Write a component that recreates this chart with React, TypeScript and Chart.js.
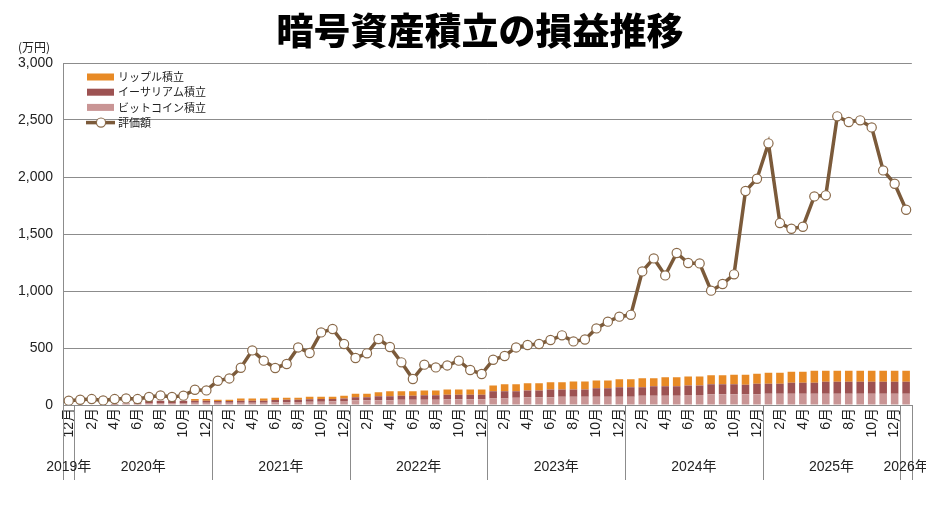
import React, { useEffect, useRef } from 'react';
import { Chart, registerables } from 'chart.js';

Chart.register(...registerables);

const TITLE = '暗号資産積立の損益推移';
const UNIT = '(万円)';

// month of each category: 2019-12 ... 2026-01
const months = [
  12,
  1, 2, 3, 4, 5, 6, 7, 8, 9, 10, 11, 12,
  1, 2, 3, 4, 5, 6, 7, 8, 9, 10, 11, 12,
  1, 2, 3, 4, 5, 6, 7, 8, 9, 10, 11, 12,
  1, 2, 3, 4, 5, 6, 7, 8, 9, 10, 11, 12,
  1, 2, 3, 4, 5, 6, 7, 8, 9, 10, 11, 12,
  1, 2, 3, 4, 5, 6, 7, 8, 9, 10, 11, 12,
  1,
];

const yearLabels = ['2019年', '2020年', '2021年', '2022年', '2023年', '2024年', '2025年', '2026年'];
const yearFirstIndex = [0, 1, 13, 25, 37, 49, 61, 73];

const yTicks = [0, 500, 1000, 1500, 2000, 2500, 3000];

const seriesNames = ['リップル積立', 'イーサリアム積立', 'ビットコイン積立', '評価額'];

const bitcoin = [
  0, 0, 0, 0, 5, 8, 10, 18, 18, 18,
  18, 20, 20, 20, 20, 20, 20, 20, 23, 23,
  26, 29, 29, 32, 35, 41, 41, 41, 41, 47,
  47, 47, 47, 50, 50, 50, 50, 58, 58, 64,
  67, 67, 67, 73, 73, 73, 73, 73, 73, 73,
  82, 82, 82, 82, 88, 88, 94, 94, 94, 94,
  94, 99, 99, 99, 99, 99, 99, 99, 99, 99,
  99, 99, 99, 99,
];

const ethereum = [
  0, 0, 0, 0, 3, 5, 8, 20, 20, 20,
  20, 18, 18, 16, 16, 18, 18, 18, 21, 24,
  21, 21, 24, 21, 23, 26, 26, 35, 35, 35,
  35, 38, 38, 40, 40, 40, 40, 62, 62, 56,
  61, 61, 70, 64, 64, 64, 73, 73, 82, 82,
  73, 82, 82, 82, 84, 84, 87, 87, 87, 84,
  93, 88, 88, 97, 97, 97, 105, 105, 105, 105,
  105, 105, 105, 105,
];

const ripple = [
  0, 0, 0, 0, 0, 0, 0, 0, 0, 0,
  0, 15, 15, 11, 11, 18, 18, 18, 20, 17,
  17, 23, 20, 20, 24, 32, 32, 35, 44, 38,
  38, 43, 43, 47, 47, 47, 47, 52, 61, 61,
  62, 62, 62, 62, 70, 70, 70, 70, 70, 70,
  79, 70, 79, 79, 79, 79, 79, 79, 85, 88,
  88, 96, 96, 96, 96, 105, 97, 97, 97, 97,
  97, 97, 97, 97,
];

const valuation = [
  38, 46, 52, 40, 52, 58, 52, 70, 84, 70,
  82, 134, 128, 213, 233, 327, 479, 389, 325, 360,
  505, 456, 637, 667, 535, 412, 453, 579, 509, 374,
  228, 354, 330, 347, 389, 307, 272, 397, 430, 505,
  526, 535, 570, 611, 558, 575, 672, 731, 775, 791,
  1172, 1286, 1137, 1333, 1246, 1242, 1003, 1061, 1146, 1877,
  1985, 2295, 1596, 1546, 1564, 1830, 1839, 2532, 2482, 2497,
  2435, 2058, 1941, 1713,
];

const C_XRP = '#e88a25';
const C_ETH = '#9d5252';
const C_BTC = '#c99595';
const C_LINE = '#7b5a3a';
const C_GRID = '#8c8c8c';
const C_TEXT = '#222222';

const FONT = "'Liberation Sans', 'Noto Sans CJK JP', sans-serif";
const JP = "'Noto Sans CJK JP', 'Liberation Sans', sans-serif";

export default function App() {
  const ref = useRef<HTMLCanvasElement>(null);

  useEffect(() => {
    const labels = months.map((m) => `${m}月`);

    const overlay = {
      id: 'overlay',
      afterDraw(chart: any) {
        const { ctx, chartArea } = chart;
        const xs = chart.scales.x;
        const n = labels.length;
        const boundary = (i: number) => {
          if (i <= 0) return chartArea.left;
          if (i >= n) return chartArea.right;
          return (xs.getPixelForValue(i - 1) + xs.getPixelForValue(i)) / 2;
        };
        ctx.save();
        // year separators below the axis
        ctx.strokeStyle = C_GRID;
        ctx.lineWidth = 1;
        const sepEnd = 472;
        const seps = [0, ...yearFirstIndex.slice(1), n];
        seps.forEach((i) => {
          const px = Math.round(boundary(i)) + 0.5;
          ctx.beginPath();
          ctx.moveTo(px, chartArea.bottom);
          ctx.lineTo(px, sepEnd);
          ctx.stroke();
        });
        // year labels
        ctx.fillStyle = C_TEXT;
        ctx.font = `14px ${FONT}`;
        ctx.textAlign = 'center';
        ctx.textBaseline = 'middle';
        yearLabels.forEach((lab, k) => {
          const a = boundary(yearFirstIndex[k]);
          const b = boundary(k + 1 < yearFirstIndex.length ? yearFirstIndex[k + 1] : n);
          ctx.fillText(lab, (a + b) / 2, 459);
        });
        // title
        ctx.font = `900 37px ${JP}`;
        ctx.fillStyle = '#000';
        ctx.fillText(TITLE, 472, 23);
        // unit
        ctx.font = `12px ${JP}`;
        ctx.textAlign = 'left';
        ctx.fillStyle = C_TEXT;
        ctx.fillText(UNIT, 10, 39);
        // legend
        const colors = [C_XRP, C_ETH, C_BTC];
        ctx.font = `11px ${JP}`;
        seriesNames.forEach((name, k) => {
          const cy = 69 + k * 15.2;
          if (k < 3) {
            ctx.fillStyle = colors[k];
            ctx.fillRect(79, cy - 3.5, 27, 7);
          } else {
            ctx.strokeStyle = C_LINE;
            ctx.lineWidth = 3.5;
            ctx.beginPath();
            ctx.moveTo(78, cy);
            ctx.lineTo(107, cy);
            ctx.stroke();
            ctx.beginPath();
            ctx.arc(93, cy, 4.6, 0, Math.PI * 2);
            ctx.fillStyle = '#fff';
            ctx.fill();
            ctx.lineWidth = 1.2;
            ctx.strokeStyle = '#8a6a4a';
            ctx.stroke();
          }
          ctx.fillStyle = C_TEXT;
          ctx.textAlign = 'left';
          ctx.fillText(name, 110, cy);
        });
        ctx.restore();
      },
    };

    const chart = new Chart(ref.current as HTMLCanvasElement, {
      type: 'bar',
      data: {
        labels,
        datasets: [
          {
            type: 'line',
            label: seriesNames[3],
            data: valuation,
            borderColor: C_LINE,
            borderWidth: 3.5,
            pointRadius: 4.6,
            pointBackgroundColor: '#ffffff',
            pointBorderColor: '#8a6a4a',
            pointBorderWidth: 1.2,
            tension: 0,
            stack: 'line',
            order: 0,
          } as any,
          {
            label: seriesNames[2],
            data: bitcoin,
            backgroundColor: C_BTC,
            stack: 'bars',
            order: 1,
            barPercentage: 0.66,
            categoryPercentage: 1,
          },
          {
            label: seriesNames[1],
            data: ethereum,
            backgroundColor: C_ETH,
            stack: 'bars',
            order: 2,
            barPercentage: 0.66,
            categoryPercentage: 1,
          },
          {
            label: seriesNames[0],
            data: ripple,
            backgroundColor: C_XRP,
            stack: 'bars',
            order: 3,
            barPercentage: 0.66,
            categoryPercentage: 1,
          },
        ],
      },
      options: {
        responsive: false,
        animation: false,
        layout: { padding: { top: 55, right: 14, left: 0, bottom: 0 } },
        plugins: {
          legend: { display: false },
          title: { display: false },
          tooltip: { enabled: false },
        },
        scales: {
          x: {
            stacked: true,
            offset: true,
            grid: { display: false, drawTicks: false },
            border: { display: true, color: C_GRID, width: 1 },
            ticks: {
              autoSkip: false,
              minRotation: 90,
              maxRotation: 90,
              padding: 3,
              color: C_TEXT,
              font: { size: 14, family: FONT },
              callback: (_v: any, i: number) => (months[i] % 2 === 0 ? labels[i] : ''),
            },
            afterFit: (s: any) => {
              s.height = 116;
            },
          },
          y: {
            stacked: true,
            min: 0,
            max: 3000,
            afterBuildTicks: (s: any) => {
              s.ticks = yTicks.map((v) => ({ value: v }));
            },
            grid: { color: C_GRID, lineWidth: 1, drawTicks: false },
            border: { display: true, color: C_GRID, width: 1 },
            ticks: {
              padding: 10,
              color: C_TEXT,
              font: { size: 14, family: FONT },
              callback: (v: any) => Number(v).toLocaleString('en-US'),
            },
            afterFit: (s: any) => {
              s.width = 55;
            },
          },
        },
      },
      plugins: [overlay],
    } as any);

    return () => chart.destroy();
  }, []);

  return (
    <div style={{ width: 918, height: 513 }}>
      <canvas ref={ref} width={918} height={513} />
    </div>
  );
}
